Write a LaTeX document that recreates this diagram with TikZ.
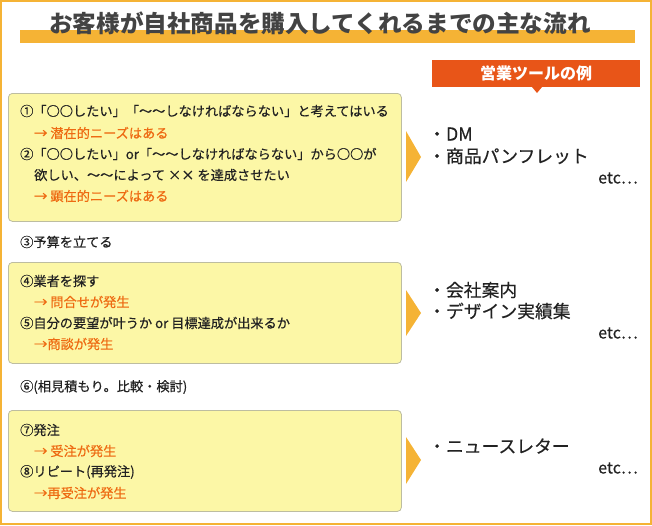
\documentclass[tikz,border=0pt]{standalone}
\usepackage{fontspec}
\setmainfont{Noto Sans CJK JP}
\newfontfamily\medfont{Noto Sans CJK JP}[FakeBold=0.4]
\definecolor{frame}{HTML}{F5B335}
\definecolor{boxfill}{HTML}{FCF7A6}
\definecolor{boxline}{HTML}{BDBDA0}
\definecolor{redbox}{HTML}{E85518}
\definecolor{ora}{HTML}{EE6A12}
\definecolor{txt}{HTML}{222222}
\tikzset{
  stagebox/.style={draw=boxline,fill=boxfill,rounded corners=4pt,line width=0.8pt},
  ln/.style={anchor=west,inner sep=0,font=\medfont\fontsize{13.2}{14}\selectfont,text=txt},
  lno/.style={ln,text=ora},
  tool/.style={anchor=west,inner sep=0,font=\medfont\fontsize{17.8}{19}\selectfont,text=txt},
  etc/.style={anchor=east,inner sep=0,font=\medfont\fontsize{16}{17}\selectfont,text=txt},
  pointer/.style={fill=frame,draw=none}
}
\begin{document}
\begin{tikzpicture}[x=1pt,y=-1pt]
\useasboundingbox (0,0) rectangle (652,525);
\draw[frame,line width=1.2pt] (1,1) rectangle (651,524);
\fill[frame] (20,30) rectangle (635,43);
\node[inner sep=0,font=\fontsize{23.6}{25}\selectfont\bfseries,text=txt!85] (title) at (320,23) {お客様が自社商品を購入してくれるまでの主な流れ};
\fill[redbox] (432,60) rectangle (640,87);
\fill[redbox] (532,87) -- (542,87) -- (537,93) -- cycle;
\node[inner sep=0,font=\fontsize{16}{17}\selectfont\bfseries,text=white] (tools) at (536,73) {営業ツールの例};
% box 1
\node[stagebox,minimum width=393,minimum height=128,anchor=north west] (b1) at (8,93) {};
\node[ln] (l11) at (20,111) {①「○○したい」「〜〜しなければならない」と考えてはいる};
\node[lno] (l12) at (34,133) {→ 潜在的ニーズはある};
\node[ln] (l13) at (20,154) {②「○○したい」or「〜〜しなければならない」から○○が};
\node[ln] (l14) at (34,175) {欲しい、〜〜によって ×× を達成させたい};
\node[lno] (l15) at (34,196) {→ 顕在的ニーズはある};
\fill[pointer] (406,131) -- (421,157) -- (406,182) -- cycle;
\node[tool] (t11) at (428,134) {・DM};
\node[tool] (t12) at (428,156) {・商品パンフレット};
\node[etc] (e1) at (638,178) {etc…};
\node[ln] (s3) at (20,242) {③予算を立てる};
% box 2
\node[stagebox,minimum width=393,minimum height=101,anchor=north west] (b2) at (8,262) {};
\node[ln] (l21) at (20,281) {④業者を探す};
\node[lno] (l22) at (34,302) {→ 問合せが発生};
\node[ln] (l23) at (20,323) {⑤自分の要望が叶うか or 目標達成が出来るか};
\node[lno] (l24) at (34,344) {→商談が発生};
\fill[pointer] (406,290) -- (421,313) -- (406,336) -- cycle;
\node[tool] (t21) at (428,290) {・会社案内};
\node[tool] (t22) at (428,311) {・デザイン実績集};
\node[etc] (e2) at (638,333) {etc…};
\node[ln] (s6) at (20,387) {⑥(相見積もり。比較・検討)};
% box 3
\node[stagebox,minimum width=393,minimum height=101,anchor=north west] (b3) at (8,410) {};
\node[ln] (l31) at (20,430) {⑦発注};
\node[lno] (l32) at (34,451) {→ 受注が発生};
\node[ln] (l33) at (20,472) {⑧リピート(再発注)};
\node[lno] (l34) at (34,493) {→再受注が発生};
\fill[pointer] (406,437) -- (421,460) -- (406,484) -- cycle;
\node[tool] (t31) at (428,446) {・ニュースレター};
\node[etc] (e3) at (638,468) {etc…};
\end{tikzpicture}
\end{document}
